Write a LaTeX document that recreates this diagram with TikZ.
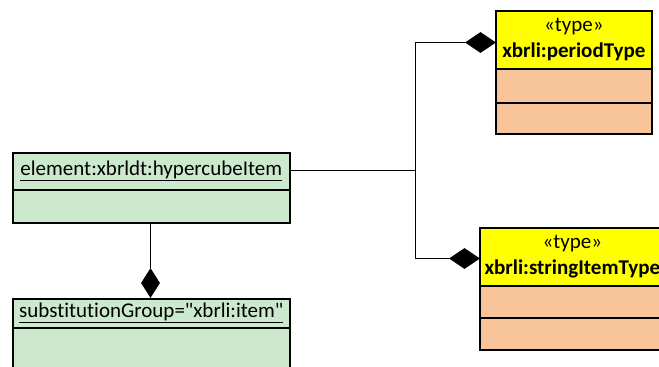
\documentclass[tikz,border=0pt]{standalone}
\usepackage{fontspec}
\setmainfont{Carlito}[Ligatures={NoCommon}]
\usetikzlibrary{shapes.geometric}
\definecolor{elemgreen}{RGB}{205,233,205}
\definecolor{typepeach}{RGB}{248,196,154}
\definecolor{typeyellow}{RGB}{255,255,0}
\tikzset{
  umlbox/.style={draw=black, line width=1.6pt, rectangle, inner sep=0pt, anchor=north west,
    font=\fontsize{21}{26}\selectfont, align=center},
  greenbox/.style={umlbox, fill=elemgreen},
  yellowbox/.style={umlbox, fill=typeyellow},
  peachbox/.style={umlbox, fill=typepeach},
  compdiamond/.style={diamond, fill=black, draw=none, inner sep=0pt, aspect=1},
  conn/.style={draw=black, line width=0.9pt}
}
\begin{document}
\begin{tikzpicture}[x=1pt,y=-1pt]
\useasboundingbox (0,0) rectangle (659,367);
\clip (0,0) rectangle (659,367);
\fill[white] (0,0) rectangle (659,367);
% hypercube element
\node[greenbox, minimum width=277pt, minimum height=37pt] (h1) at (12,152) {\underline{element:xbrldt:hypercubeItem}};
\node[greenbox, minimum width=277pt, minimum height=33pt] (h1b) at (12,189) {};
% substitution group
\node[greenbox, minimum width=277pt, minimum height=29pt] (s1) at (12,298) {\underline{substitutionGroup=\textquotedbl xbrli:item\textquotedbl}};
\node[greenbox, minimum width=277pt, minimum height=60pt] (s1b) at (12,327) {};
% periodType
\node[yellowbox, minimum width=156pt, minimum height=58pt] (p) at (495,10) {«type»\\\textbf{xbrli:periodType}};
\node[peachbox, minimum width=156pt, minimum height=34pt] (p1) at (495,68) {};
\node[peachbox, minimum width=156pt, minimum height=31pt] (p2) at (495,102) {};
% stringItemType
\node[yellowbox, minimum width=185pt, minimum height=58pt] (t) at (479,227) {«type»\\\textbf{xbrli:stringItemType}};
\node[peachbox, minimum width=185pt, minimum height=32pt] (t1) at (479,285) {};
\node[peachbox, minimum width=185pt, minimum height=32pt] (t2) at (479,317) {};
% diamonds
\node[compdiamond, minimum width=31pt, minimum height=21pt] (dp) at (480.5,42.5) {};
\node[compdiamond, minimum width=31pt, minimum height=21pt] (dt) at (464.5,258.5) {};
\node[compdiamond, minimum width=19pt, minimum height=30pt] (ds) at (150.5,283) {};
% connectors
\coordinate (j) at (415.5,170);
\draw[conn] (h1.east |- j) -- (j);
\draw[conn] (dp.west) -| (j) |- (dt.west);
\draw[conn] (ds.north |- h1b.south) -- (ds.north);
\end{tikzpicture}
\end{document}
